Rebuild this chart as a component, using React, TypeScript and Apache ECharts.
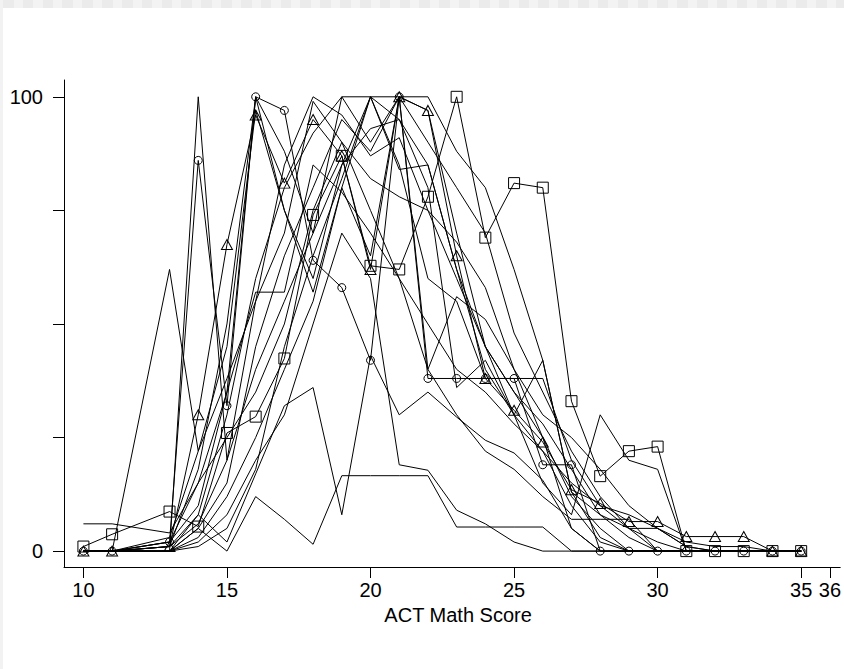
import React, { useEffect, useRef } from "react";
import * as echarts from "echarts";

// ACT math scores (no observations at 12 or 36)
const scores = [10, 11, 13, 14, 15, 16, 17, 18, 19, 20, 21, 22, 23, 24, 25, 26, 27, 28, 29, 30, 31, 32, 33, 34, 35];

const xTickValues = [10, 15, 20, 25, 30, 35, 36];
const yTickValues = [0, 25, 50, 75, 100];
const yLabelValues = [0, 100];

// highlighted series
const circleSeries = [0, 0, 2, 86, 32, 100, 97, 64, 58, 42, 100, 38, 38, 38, 38, 19, 19, 0, 0, 0, 0, 0, 0, 0, 0];
const triangleSeries = [0, 0, 1, 30, 67.5, 96, 81, 95, 87, 62, 100, 97, 65, 38, 31, 24, 13.5, 10.5, 6.5, 6.5, 3.2, 3.2, 3.2, 0, 0];
const squareSeries = [1, 3.7, 8.7, 5.4, 26, 29.6, 42.4, 74, 87, 62.8, 62, 78, 100, 69, 81, 80, 33, 16.5, 22, 23, 0, 0, 0, 0, 0];

// plain series
const plain1 = [0, 0, 0, 100, 20, 55, 85, 100, 96, 87, 91, 75, 60, 45, 35, 25, 12, 5, 0, 0, 0, 0, 0, 0, 0];
const plain2 = [0, 0, 62, 22, 45, 97, 75, 57, 80, 100, 84, 85, 62, 40, 30, 22, 10, 2, 0, 0, 0, 0, 0, 0, 0];
const plain3 = [6, 6, 4, 15, 35, 57, 57, 85, 79, 70, 60, 40, 30, 22, 18, 12, 7, 7, 7, 0, 0, 0, 0, 0, 0];
const plain4 = [0, 0, 0, 5, 0, 12, 7, 1.5, 16.6, 16.6, 16.6, 16.6, 5.3, 5.3, 5.3, 5.3, 0, 0, 0, 0, 0, 0, 0, 0, 0];
const plain5 = [0, 0, 0, 8, 2, 17, 32, 36, 8, 43, 30, 35, 29.5, 24.4, 21.6, 15.6, 5, 0, 0, 0, 0, 0, 0, 0, 0];
const plain6 = [0, 0, 2, 10, 35, 100, 75, 60, 85, 100, 95, 80, 36, 42, 30, 42, 13, 8, 5, 0, 0, 0, 0, 0, 0];
const plain7 = [0, 0, 1, 18, 50, 100, 88, 70, 100, 90, 100, 40, 56, 51, 40, 25, 5, 0, 0, 0, 0, 0, 0, 0, 0];
const plain8 = [0, 0, 0, 5, 15, 45, 65, 80, 95, 88, 100, 97, 70, 45, 30, 15, 8, 30, 20, 18, 0, 0, 0, 0, 0];
const plain9 = [0, 0, 3, 22, 38, 55, 70, 99, 90, 75, 60, 50, 40, 35, 28, 22, 15, 10, 8, 5, 2, 1, 1, 0, 0];
const plain10 = [0, 0, 1, 8, 30, 60, 80, 92, 100, 100, 85, 60, 55, 38, 38, 38, 20, 10, 5, 5, 1, 0, 0, 0, 0];
const plain11 = [0, 0, 2, 15, 25, 35, 50, 75, 90, 82, 78, 75, 68, 58, 40, 30, 25, 18, 10, 5, 1, 0, 0, 0, 0];
const plain12 = [0, 0, 1, 6, 20, 40, 55, 70, 85, 93, 95, 85, 62, 45, 35, 28, 18, 8, 3, 0, 0, 0, 0, 0, 0];
const plain13 = [0, 0, 0, 3, 12, 25, 40, 55, 80, 65, 100, 90, 80, 70, 48, 35, 22, 12, 5, 2, 0, 0, 0, 0, 0];
const plain14 = [0, 0, 0, 2, 8, 20, 30, 50, 70, 60, 19, 17.8, 9, 6, 2, 0, 0, 0, 0, 0, 0, 0, 0, 0, 0];
const plain15 = [0, 0, 0, 1, 5, 18, 45, 65, 82, 100, 100, 100, 88, 80, 62, 42, 13, 3, 0, 0, 0, 0, 0, 0, 0];

const plainSeries = [plain1, plain2, plain3, plain4, plain5, plain6, plain7, plain8, plain9, plain10, plain11, plain12, plain13, plain14, plain15];

const FONT = "'Liberation Sans', Arial, Helvetica, sans-serif";

function pairs(vals: number[]) {
  return scores.map((x, i) => [x, vals[i]]);
}

export default function App() {
  const ref = useRef<HTMLDivElement>(null);

  useEffect(() => {
    if (!ref.current) return;
    const chart = echarts.init(ref.current, undefined, { renderer: "svg" });

    const plain = plainSeries.map((vals, i) => ({
      type: "line",
      name: "p" + i,
      data: pairs(vals),
      showSymbol: false,
      symbol: "none",
      lineStyle: { color: "#000", width: 1 },
      silent: true,
      z: 2,
    }));

    const marked = (vals: number[], symbol: string, size: any, name: string) => ({
      type: "line",
      name,
      data: pairs(vals),
      symbol,
      symbolSize: size,
      showSymbol: true,
      showAllSymbol: true,
      lineStyle: { color: "#000", width: 1 },
      itemStyle: { color: "rgba(0,0,0,0)", borderColor: "#000", borderWidth: 1 },
      silent: true,
      z: 3,
    });

    chart.setOption({
      animation: false,
      backgroundColor: "transparent",
      grid: { left: 64, top: 80, right: 0, bottom: 102, containLabel: false },
      xAxis: {
        type: "value",
        min: 9.324,
        max: 36.36,
        axisLine: { show: true, onZero: false, lineStyle: { color: "#000", width: 1 } },
        axisTick: { show: true, length: 11, customValues: xTickValues, lineStyle: { color: "#000", width: 1 } },
        axisLabel: { show: true, customValues: xTickValues, margin: 13, fontSize: 20, color: "#000", fontFamily: FONT },
        splitLine: { show: false },
        name: "ACT Math Score",
        nameLocation: "middle",
        nameGap: 30,
        nameTextStyle: { fontSize: 20, color: "#000", fontFamily: FONT, padding: [0, 0, 0, 12] },
      },
      yAxis: {
        type: "value",
        min: -3.5,
        max: 103.7,
        axisLine: { show: true, onZero: false, lineStyle: { color: "#000", width: 1 } },
        axisTick: { show: true, length: 11, customValues: yTickValues, lineStyle: { color: "#000", width: 1 } },
        axisLabel: { show: true, customValues: yLabelValues, margin: 21, fontSize: 20, color: "#000", fontFamily: FONT },
        splitLine: { show: false },
      },
      series: [
        ...plain,
        marked(circleSeries, "circle", 8, "circle"),
        marked(triangleSeries, "triangle", [11, 10], "triangle"),
        marked(squareSeries, "rect", 11, "square"),
      ],
    });

    return () => chart.dispose();
  }, []);

  return (
    <div style={{ position: "fixed", left: 0, top: 0, width: 844, height: 669, background: "#fff", overflow: "hidden" }}>
      <div style={{ position: "absolute", left: 0, top: 0, width: 3, height: 669, background: "#f2f2f2" }} />
      <div
        style={{
          position: "absolute",
          left: 3,
          top: 0,
          width: 841,
          height: 8,
          background: "repeating-linear-gradient(90deg, #ebebeb 0px, #ebebeb 10.6px, #f3f3f3 10.6px, #f3f3f3 19.83px)",
        }}
      />
      <div ref={ref} style={{ position: "absolute", left: 0, top: 0, width: 844, height: 669 }} />
    </div>
  );
}
